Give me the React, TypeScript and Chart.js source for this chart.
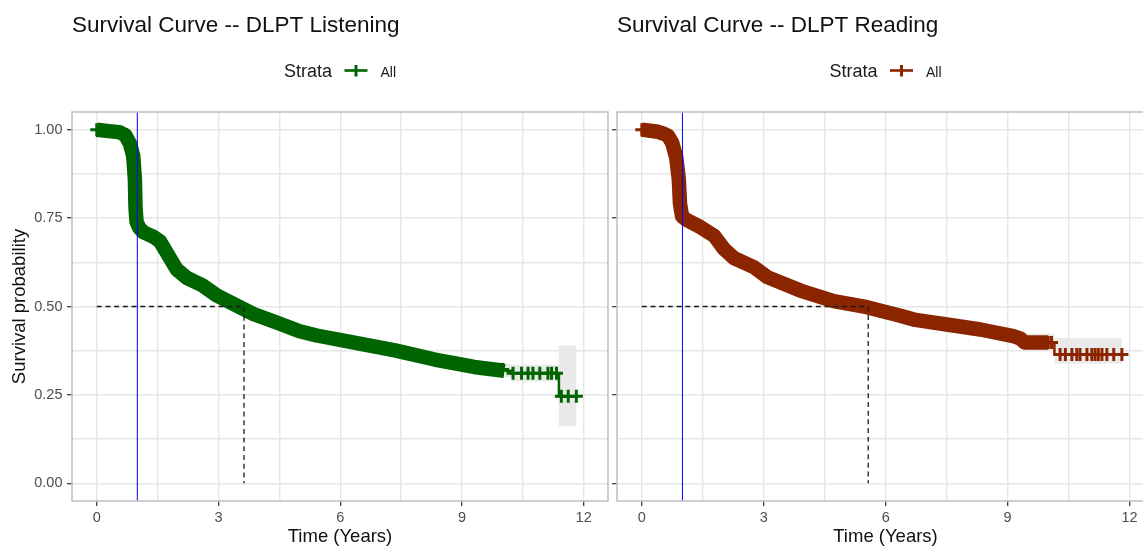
import React, { useEffect, useRef } from "react";
import { Chart, registerables } from "chart.js";

Chart.register(...registerables);

const FONT = "'Liberation Sans', Arial, Helvetica, sans-serif";

// ---- DLPT Listening: Kaplan–Meier estimate (time in years) ----
const listeningTimes = [0, 0.3, 0.55, 0.7, 0.82, 0.9, 0.94, 0.955, 0.98, 1.05, 1.15, 1.4, 1.56, 1.72, 1.97, 2.22, 2.6, 2.96, 3.36, 3.86, 4.4, 5.0, 5.42, 6.38, 7.35, 8.33, 9.3, 9.79, 10.05];
const listeningSurvival = [1.0, 0.996, 0.993, 0.985, 0.96, 0.925, 0.86, 0.78, 0.74, 0.722, 0.71, 0.697, 0.684, 0.653, 0.605, 0.581, 0.56, 0.531, 0.508, 0.479, 0.456, 0.43, 0.418, 0.397, 0.376, 0.35, 0.329, 0.322, 0.318];
const listeningTailTimes = [10.05, 10.22, 11.39, 11.82];
const listeningTailSurvival = [0.318, 0.311, 0.246, 0.246];
const listeningCensorTimes = [0, 9.9, 10.0, 10.26, 10.47, 10.63, 10.75, 10.92, 11.12, 11.21, 11.33, 11.45, 11.62, 11.82];
const listeningBandTimes = [9.2, 10.05, 10.22, 11.39, 11.82];
const listeningBandUpper = [0.343, 0.338, 0.335, 0.39, 0.39];
const listeningBandLower = [0.315, 0.3, 0.288, 0.162, 0.162];
const listeningMedian = 3.63;

// ---- DLPT Reading: Kaplan–Meier estimate (time in years) ----
const readingTimes = [0, 0.4, 0.55, 0.65, 0.75, 0.85, 0.91, 0.94, 0.99, 1.1, 1.45, 1.78, 2.02, 2.27, 2.76, 3.09, 3.9, 4.72, 5.54, 6.36, 6.69, 7.5, 8.33, 9.14, 9.3, 9.42, 10.0];
const readingSurvival = [1.0, 0.994, 0.988, 0.982, 0.962, 0.92, 0.86, 0.79, 0.755, 0.745, 0.724, 0.7, 0.663, 0.637, 0.611, 0.583, 0.545, 0.515, 0.498, 0.474, 0.463, 0.449, 0.435, 0.416, 0.41, 0.398, 0.398];
const readingTailTimes = [10.0, 10.15, 11.81];
const readingTailSurvival = [0.398, 0.364, 0.364];
const readingCensorTimes = [0, 9.84, 9.92, 10.0, 10.08, 10.29, 10.42, 10.58, 10.7, 10.78, 10.95, 11.07, 11.15, 11.23, 11.32, 11.44, 11.61, 11.81];
const readingBandTimes = [9.14, 9.42, 10.15, 11.81];
const readingBandUpper = [0.43, 0.424, 0.41, 0.41];
const readingBandLower = [0.4, 0.375, 0.339, 0.339];
const readingMedian = 5.57;

// ---- axes ----
const xGridValues = [0, 1.5, 3, 4.5, 6, 7.5, 9, 10.5, 12];
const xMajorTicks = [0, 3, 6, 9, 12];
const xTickLabels = ["0", "3", "6", "9", "12"];
const yGridValues = [0, 0.125, 0.25, 0.375, 0.5, 0.625, 0.75, 0.875, 1];
const yMajorTicks = [0, 0.25, 0.5, 0.75, 1];
const yTickLabels = ["0.00", "0.25", "0.50", "0.75", "1.00"];
const xLimits = [-0.61, 12.6];
const yLimits = [-0.05, 1.05];
const referenceTime = 1;

const pts = (xs: number[], ys: number[]) => xs.map((x, i) => ({ x, y: ys[i] }));

// step-function lookup of the survival estimate at time t
function survivalAt(t: number, times: number[], surv: number[]) {
  let v = surv[0];
  for (let i = 0; i < times.length; i++) if (times[i] <= t + 1e-9) v = surv[i];
  return v;
}

type PanelProps = {
  title: string;
  color: string;
  times: number[];
  survival: number[];
  tailTimes: number[];
  tailSurvival: number[];
  censorTimes: number[];
  bandTimes: number[];
  bandUpper: number[];
  bandLower: number[];
  median: number;
  left: number;
  width: number;
  yAxisWidth: number;
  padRight: number;
  showYLabels: boolean;
};

function SurvivalPanel(p: PanelProps) {
  const ref = useRef<HTMLCanvasElement | null>(null);

  useEffect(() => {
    if (!ref.current) return;
    const allTimes = [...p.times, ...p.tailTimes.slice(1)];
    const allSurv = [...p.survival, ...p.tailSurvival.slice(1)];
    const censorPts = p.censorTimes.map((t) => ({ x: t, y: survivalAt(t, allTimes, allSurv) }));

    const decor = {
      id: "panelDecor",
      afterDraw(chart: any) {
        const { ctx, chartArea } = chart;
        const a = chartArea;
        ctx.save();
        // panel border
        ctx.strokeStyle = "#C2C2C2";
        ctx.lineWidth = 1.6;
        ctx.strokeRect(a.left, a.top, a.right - a.left, a.bottom - a.top);
        // plot title
        ctx.fillStyle = "#111";
        ctx.textBaseline = "alphabetic";
        ctx.textAlign = "left";
        ctx.font = `22.5px ${FONT}`;
        ctx.fillText(p.title, a.left, 32);
        // legend: Strata + All
        ctx.font = `18px ${FONT}`;
        const wS = ctx.measureText("Strata").width;
        ctx.font = `14px ${FONT}`;
        const wA = ctx.measureText("All").width;
        const keyW = 23, g1 = 12.5, g2 = 13;
        const total = wS + g1 + keyW + g2 + wA;
        let x = (a.left + a.right) / 2 - total / 2;
        ctx.font = `18px ${FONT}`;
        ctx.fillStyle = "#1A1A1A";
        ctx.fillText("Strata", x, 77);
        x += wS + g1;
        ctx.strokeStyle = p.color;
        ctx.lineWidth = 2.6;
        ctx.beginPath();
        ctx.moveTo(x, 70.5);
        ctx.lineTo(x + keyW, 70.5);
        ctx.stroke();
        ctx.lineWidth = 3;
        ctx.beginPath();
        ctx.moveTo(x + keyW / 2, 65);
        ctx.lineTo(x + keyW / 2, 76.5);
        ctx.stroke();
        x += keyW + g2;
        ctx.font = `14px ${FONT}`;
        ctx.fillStyle = "#1A1A1A";
        ctx.fillText("All", x, 77);
        ctx.restore();
      },
    };

    const tickColor = (majors: number[]) => (c: any) =>
      c.tick && majors.some((m) => Math.abs(m - c.tick.value) < 1e-9) ? "#333333" : "rgba(0,0,0,0)";

    const chart = new Chart(ref.current, {
      type: "line",
      data: {
        datasets: [
          {
            data: pts(p.bandTimes, p.bandLower),
            stepped: true,
            borderWidth: 0,
            pointRadius: 0,
            fill: false,
            order: 10,
          },
          {
            data: pts(p.bandTimes, p.bandUpper),
            stepped: true,
            borderWidth: 0,
            pointRadius: 0,
            fill: "-1",
            backgroundColor: "#E9E9E9",
            order: 9,
          },
          {
            data: pts(p.times, p.survival),
            borderColor: p.color,
            borderWidth: 14.5,
            borderJoinStyle: "round",
            borderCapStyle: "butt",
            pointRadius: 0,
            fill: false,
            order: 8,
          },
          {
            data: pts(p.tailTimes, p.tailSurvival),
            stepped: true,
            borderColor: p.color,
            borderWidth: 2.5,
            pointRadius: 0,
            fill: false,
            order: 7,
          },
          {
            data: censorPts,
            showLine: false,
            pointStyle: "cross",
            pointRadius: 6.5,
            pointBorderWidth: 3,
            pointBorderColor: p.color,
            pointBackgroundColor: p.color,
            order: 6,
          },
          {
            data: [
              { x: 0, y: 0.5 },
              { x: p.median, y: 0.5 },
              { x: p.median, y: 0 },
            ],
            borderColor: "#1A1A1A",
            borderWidth: 1.3,
            borderDash: [5, 3.7],
            pointRadius: 0,
            fill: false,
            order: 3,
          },
          {
            data: [
              { x: referenceTime, y: yLimits[0] },
              { x: referenceTime, y: yLimits[1] },
            ],
            borderColor: "#0000FF",
            borderWidth: 1,
            pointRadius: 0,
            fill: false,
            order: 1,
          },
        ],
      } as any,
      options: {
        animation: false,
        responsive: false,
        events: [],
        layout: { autoPadding: false, padding: { left: 0, right: p.padRight, top: 112, bottom: 0 } },
        plugins: { legend: { display: false }, tooltip: { enabled: false }, title: { display: false } },
        scales: {
          x: {
            type: "linear",
            min: xLimits[0],
            max: xLimits[1],
            afterBuildTicks: (s: any) => {
              s.ticks = xGridValues.map((v) => ({ value: v }));
            },
            afterFit: (s: any) => {
              s.height = 47;
              s.paddingLeft = 0;
              s.paddingRight = 0;
            },
            border: { display: false },
            grid: {
              color: "#E6E6E6",
              lineWidth: 1.4,
              tickLength: 5,
              tickWidth: 1.2,
              tickColor: tickColor(xMajorTicks),
            },
            ticks: {
              autoSkip: false,
              maxRotation: 0,
              padding: 3,
              color: "#4D4D4D",
              font: { family: FONT, size: 14.5 },
              callback: (v: any) => {
                const i = xMajorTicks.findIndex((m) => Math.abs(m - Number(v)) < 1e-9);
                return i >= 0 ? xTickLabels[i] : "";
              },
            },
            title: {
              display: true,
              text: "Time (Years)",
              color: "#111",
              font: { family: FONT, size: 18.5 },
              padding: { top: 0, bottom: 0 },
            },
          },
          y: {
            type: "linear",
            min: yLimits[0],
            max: yLimits[1],
            afterBuildTicks: (s: any) => {
              s.ticks = yGridValues.map((v) => ({ value: v }));
            },
            afterFit: (s: any) => {
              s.width = p.yAxisWidth;
              s.paddingTop = 0;
              s.paddingBottom = 0;
            },
            border: { display: false },
            grid: {
              color: "#E6E6E6",
              lineWidth: 1.4,
              tickLength: 5,
              tickWidth: 1.2,
              tickColor: tickColor(yMajorTicks),
            },
            ticks: {
              autoSkip: false,
              padding: 4.5,
              color: "#4D4D4D",
              font: { family: FONT, size: 14.5 },
              callback: (v: any) => {
                if (!p.showYLabels) return "";
                const i = yMajorTicks.findIndex((m) => Math.abs(m - Number(v)) < 1e-9);
                return i >= 0 ? yTickLabels[i] : "";
              },
            },
            title: {
              display: p.showYLabels,
              text: "Survival probability",
              color: "#111",
              font: { family: FONT, size: 18.5 },
              padding: { top: 9, bottom: 0 },
            },
          },
        },
      } as any,
      plugins: [decor],
    });
    return () => chart.destroy();
  }, []);

  return (
    <canvas
      ref={ref}
      width={p.width}
      height={548}
      style={{ position: "absolute", left: p.left, top: 0, width: p.width, height: 548 }}
    />
  );
}

export default function App() {
  return (
    <div
      style={{
        position: "fixed",
        left: 0,
        top: 0,
        width: 1143,
        height: 548,
        overflow: "hidden",
        background: "#FFFFFF",
      }}
    >
      <SurvivalPanel
        title="Survival Curve -- DLPT Listening"
        color="#006400"
        times={listeningTimes}
        survival={listeningSurvival}
        tailTimes={listeningTailTimes}
        tailSurvival={listeningTailSurvival}
        censorTimes={listeningCensorTimes}
        bandTimes={listeningBandTimes}
        bandUpper={listeningBandUpper}
        bandLower={listeningBandLower}
        median={listeningMedian}
        left={0}
        width={612}
        yAxisWidth={72}
        padRight={4}
        showYLabels={true}
      />
      <SurvivalPanel
        title="Survival Curve -- DLPT Reading"
        color="#8B2500"
        times={readingTimes}
        survival={readingSurvival}
        tailTimes={readingTailTimes}
        tailSurvival={readingTailSurvival}
        censorTimes={readingCensorTimes}
        bandTimes={readingBandTimes}
        bandUpper={readingBandUpper}
        bandLower={readingBandLower}
        median={readingMedian}
        left={560}
        width={600}
        yAxisWidth={57}
        padRight={6}
        showYLabels={false}
      />
    </div>
  );
}
